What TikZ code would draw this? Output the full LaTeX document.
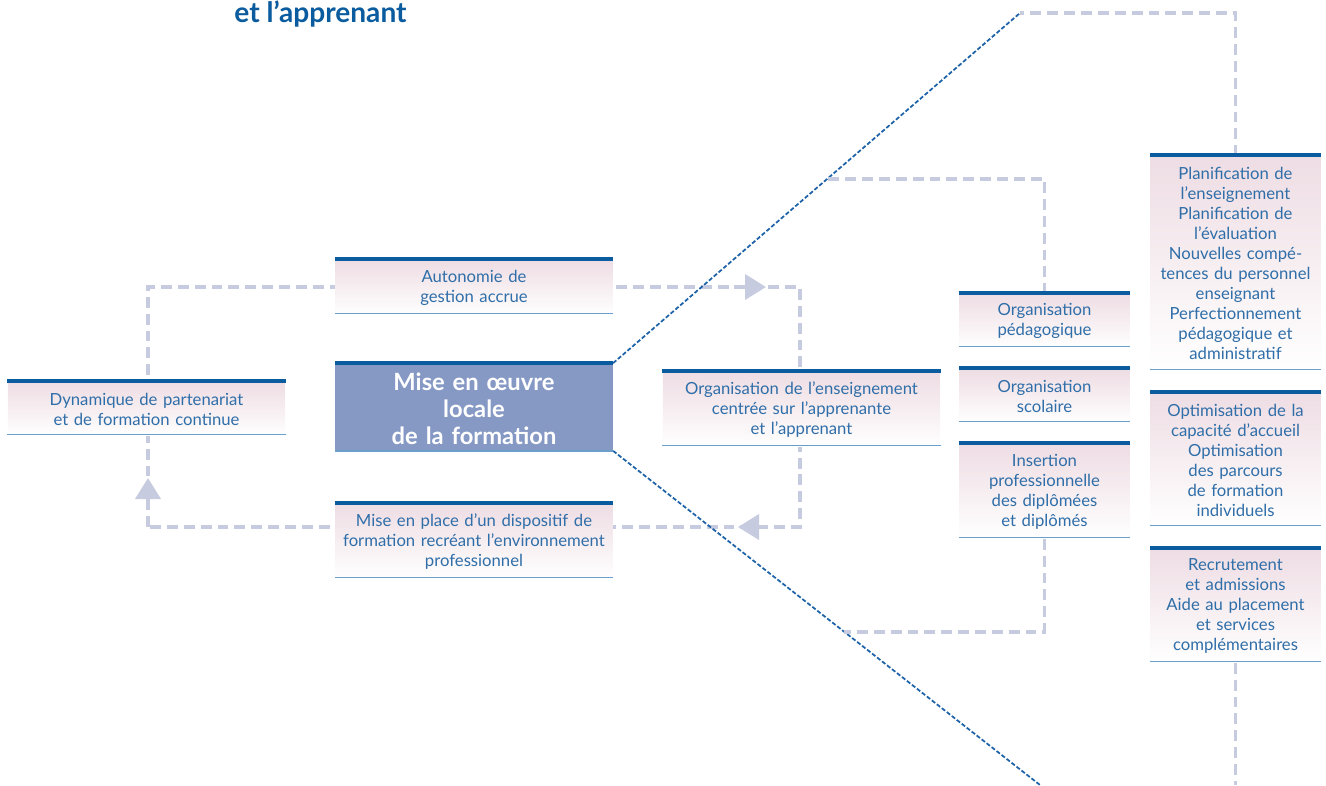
\documentclass[tikz,border=0pt]{standalone}
\usepackage{fontspec}
\setmainfont{Lato}
\usetikzlibrary{arrows.meta,calc,backgrounds}
\definecolor{barre}{HTML}{0B5C9E}
\definecolor{filet}{HTML}{6A9FCB}
\definecolor{texte}{HTML}{2F6EA8}
\definecolor{rose}{HTML}{EEDDE4}
\definecolor{ardoise}{HTML}{8699C5}
\definecolor{lavande}{HTML}{C7CBDF}
\definecolor{trait}{HTML}{1E63A8}
\tikzset{
  etape/.style={inner sep=0pt, align=center, text=texte, top color=rose, bottom color=white,
    font=\fontsize{9.5}{11.4}\selectfont},
  large/.style={minimum width=5.55cm, text width=5.4cm},
  etroite/.style={minimum width=3.42cm, text width=3.3cm},
  coeur/.style={inner sep=0pt, align=center, fill=ardoise, text=white, large,
    font=\bfseries\fontsize{13.5}{15.4}\selectfont},
  barrehaut/.style={barre, line width=2.3pt},
  barrebas/.style={filet, line width=0.8pt},
  liaison/.style={lavande, line width=2.2pt, dash pattern=on 6.2pt off 3.4pt},
  fleche/.style={lavande, line width=2.2pt, -{Triangle[length=0.42cm, width=0.5cm]}},
  pointille/.style={trait, line width=1pt, dash pattern=on 2.4pt off 1.2pt}
}

\begin{document}
\begin{tikzpicture}[x=0.02cm, y=-0.02cm]
  \useasboundingbox (0,0) rectangle (1326,785);

  \node[anchor=base west, inner sep=0pt, text=barre, font=\bfseries\fontsize{16}{19}\selectfont] (titre) at (234,22) {et l’apprenant};

  % centre et boucle
  \node[etape, large, minimum height=1.06cm] (dyn) at (146.5,409) {Dynamique de partenariat\\et de formation continue};
  \node[etape, large, minimum height=1.08cm] (auto) at (474,287.5) {Autonomie de\\gestion accrue};
  \node[coeur, minimum height=1.74cm] (main) at (474,408.5) {Mise en œuvre\\locale\\de la formation};
  \node[etape, large, minimum height=1.48cm] (place) at (474,541.5) {Mise en place d’un dispositif de\\formation recréant l’environnement\\professionnel};
  \node[etape, large, minimum height=1.48cm] (orgens) at (801.5,409.5) {Organisation de l’enseignement\\centrée sur l’apprenante\\et l’apprenant};

  % colonne du milieu
  \node[etape, etroite, minimum height=1.06cm] (orgped) at (1044.5,321) {Organisation\\pédagogique};
  \node[etape, etroite, minimum height=1.06cm] (orgsco) at (1044.5,396) {Organisation\\scolaire};
  \node[etape, etroite, minimum height=1.88cm] (insert) at (1044.5,491.5) {Insertion\\professionnelle\\des diplômées\\et diplômés};

  % colonne de droite
  \node[etape, etroite, minimum height=4.28cm] (planif) at (1235.5,263.5) {Planification de\\l’enseignement\\Planification de\\l’évaluation\\Nouvelles compé-\\tences du personnel\\enseignant\\Perfectionnement\\pédagogique et\\administratif};
  \node[etape, etroite, minimum height=2.66cm] (optim) at (1235.5,460) {Optimisation de la\\capacité d’accueil\\Optimisation\\des parcours\\de formation\\individuels};
  \node[etape, etroite, minimum height=2.26cm] (recrut) at (1235.5,606) {Recrutement\\et admissions\\Aide au placement\\et services\\complémentaires};

  \foreach \n in {dyn,auto,main,place,orgens,orgped,orgsco,insert,planif,optim,recrut} {
    \draw[barrehaut] ([yshift=1.5*0.02cm]\n.north west) -- ([yshift=1.5*0.02cm]\n.north east);
    \draw[barrebas] ([yshift=1.5*0.02cm]\n.south west) -- ([yshift=1.5*0.02cm]\n.south east);
  }

  \coordinate (haut) at (1020,13);
  \coordinate (bas) at (1040,785);
  \coordinate (bl) at (148,527);
  \coordinate (br) at (800,527);
  \coordinate (fin) at (recrut |- 0,785);

  \begin{scope}[on background layer]
    \draw[liaison] (bl) -- (148,287) -- (800,287) -- (br) -- cycle;
    \draw[fleche] ($(bl)+(0,-27)$) -- ++(0,-22);
    \draw[fleche] (744,287) -- ++(22,0);
    \draw[fleche] (760,527) -- ++(-22,0);

    \draw[pointille] ([yshift=1.5*0.02cm]main.north east) -- (haut);
    \draw[pointille] ([yshift=1.5*0.02cm]main.south east) -- (bas);

    \draw[liaison] (planif.north) |- (haut);
    \draw[liaison] (orgped.north) |- (828,179);
    \draw[liaison] (insert.south) |- (844,632);
    \draw[liaison] (recrut.south) -- (fin);
  \end{scope}
\end{tikzpicture}
\end{document}
